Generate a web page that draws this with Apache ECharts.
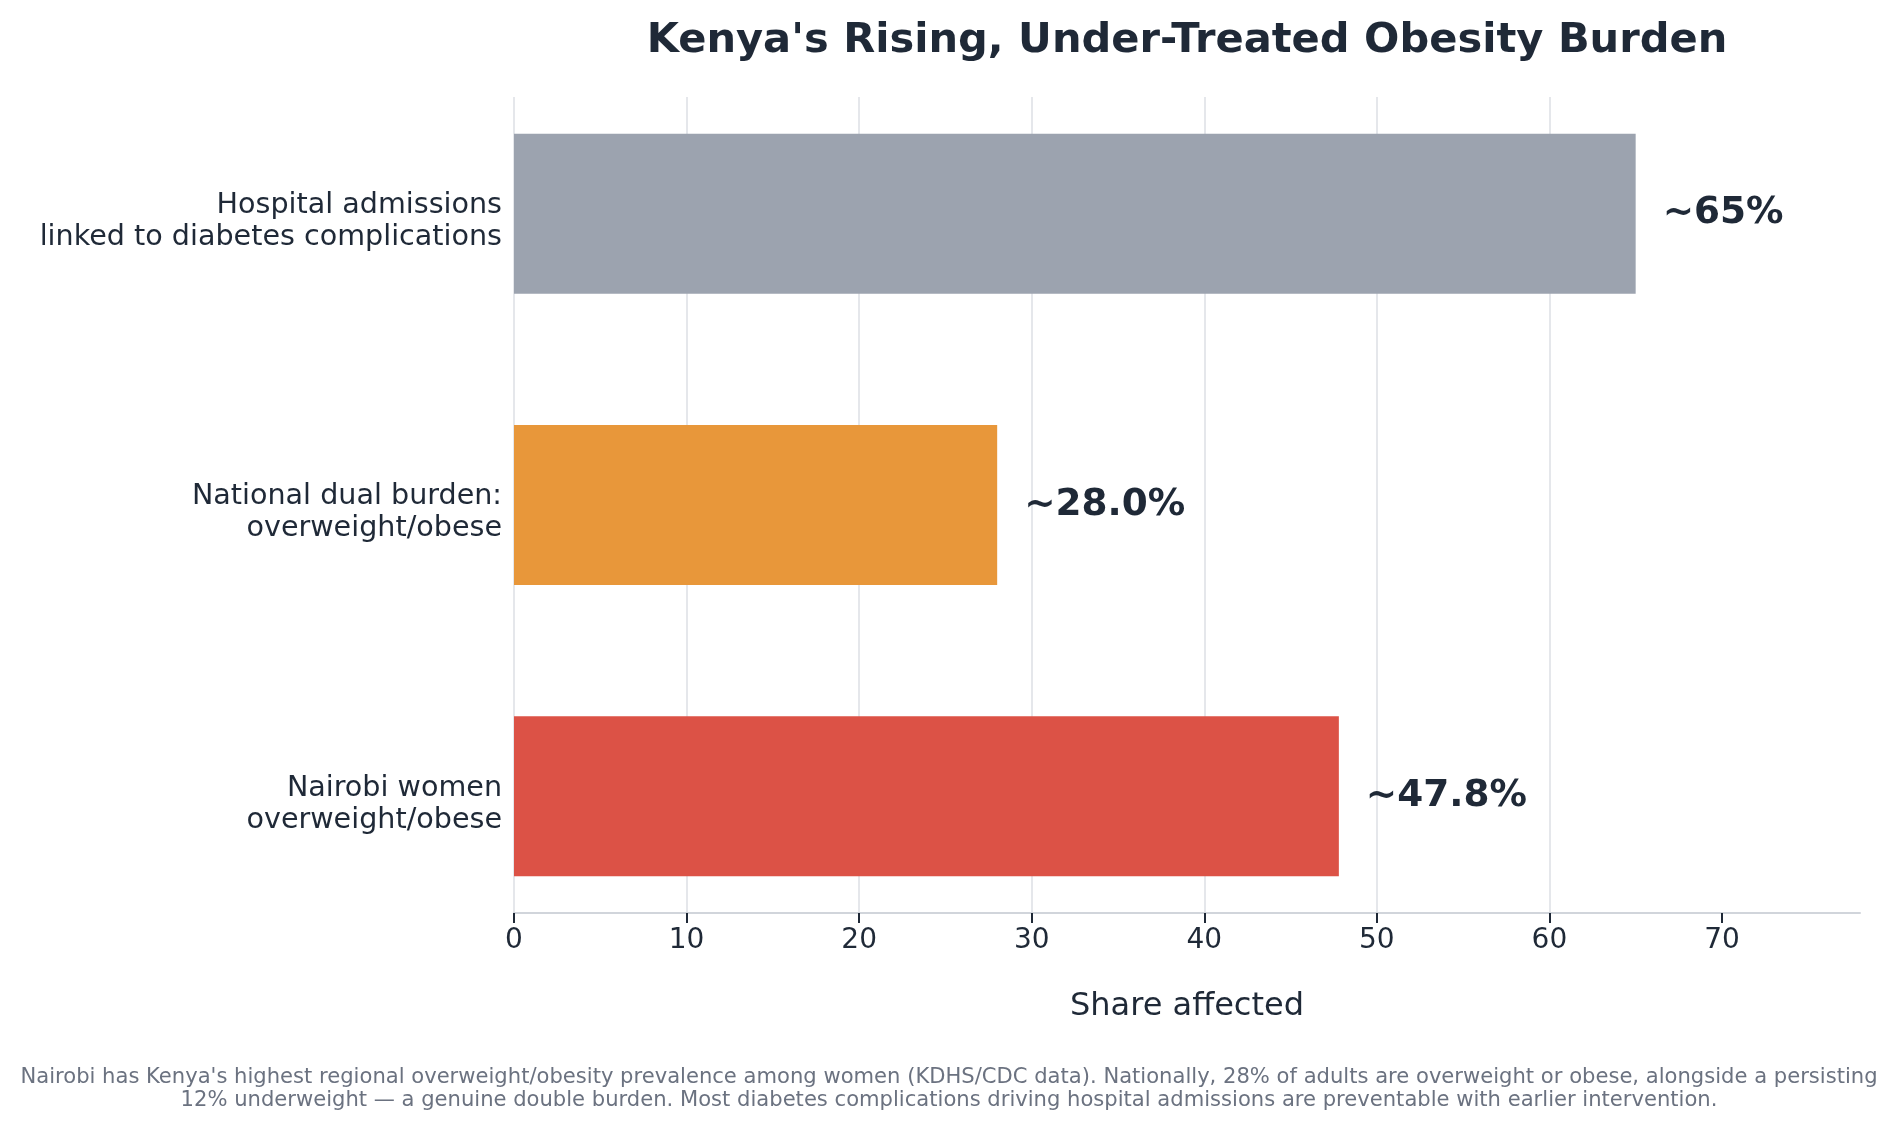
<!DOCTYPE html>
<html>
<head>
<meta charset="utf-8">
<title>Kenya's Rising, Under-Treated Obesity Burden</title>
<script src="https://cdn.jsdelivr.net/npm/echarts@6/dist/echarts.min.js"></script>
<style>
  html, body { margin: 0; padding: 0; background: #ffffff; }
  #main { width: 1898px; height: 1130px; }
</style>
</head>
<body>
<div id="main"></div>
<script>
// data, bottom to top (echarts puts the first category at the bottom)
var categories = [
  'Nairobi women\noverweight/obese',
  'National dual burden:\noverweight/obese',
  'Hospital admissions\nlinked to diabetes complications'
];
var shares = [47.8, 28.0, 65];
var valueLabels = ['~47.8%', '~28.0%', '~65%'];
var barColors = ['#dc5246', '#e8973a', '#9ca3af'];
var xTicks = [0, 10, 20, 30, 40, 50, 60, 70];
var xMax = 78;

var titleText = "Kenya's Rising, Under-Treated Obesity Burden";
var xName = 'Share affected';
var footnote = "Nairobi has Kenya's highest regional overweight/obesity prevalence among women (KDHS/CDC data). Nationally, 28% of adults are overweight or obese, alongside a persisting\n" +
  "12% underweight \u2014 a genuine double burden. Most diabetes complications driving hospital admissions are preventable with earlier intervention.";

var FONT = 'DejaVu Sans';
var INK = '#1f2937';

var myChart = echarts.init(document.getElementById('main'));

var option = {
  backgroundColor: '#ffffff',
  animation: false,
  textStyle: { fontFamily: FONT },
  graphic: [
    {
      type: 'text', x: 1187, y: 41.5,
      style: {
        text: titleText, fill: INK, font: 'bold 41.6px "DejaVu Sans"',
        align: 'center', verticalAlign: 'middle'
      }
    },
    {
      type: 'text', x: 949, y: 1089,
      style: {
        text: footnote, fill: '#6b7280', font: '21.1px "DejaVu Sans"',
        align: 'center', verticalAlign: 'middle', lineHeight: 23
      }
    }
  ],
  grid: [
    // visible axes (matplotlib-like y-range with margins)
    { left: 514, right: 38, top: 97, bottom: 217 },
    // category bands for the bars
    { left: 514, right: 38, top: 68, bottom: 188 },
    // same bands nudged down a little, only for the category labels
    { left: 514, right: 38, top: 76, bottom: 180 }
  ],
  xAxis: [
    {
      gridIndex: 0, type: 'value', min: 0, max: xMax, interval: 10,
      name: xName, nameLocation: 'middle', nameGap: 78,
      nameTextStyle: { fontSize: 32, color: INK, fontFamily: FONT },
      axisLine: { show: true, lineStyle: { color: '#d1d5db', width: 2 } },
      axisTick: { show: true, length: 10, customValues: xTicks, lineStyle: { color: INK, width: 2 } },
      axisLabel: { fontSize: 28, color: INK, margin: 14, customValues: xTicks, fontFamily: FONT },
      splitLine: { show: true, showMaxLine: false, lineStyle: { color: '#e5e7eb', width: 2 } }
    },
    { gridIndex: 1, type: 'value', min: 0, max: xMax, show: false },
    { gridIndex: 2, type: 'value', min: 0, max: xMax, show: false }
  ],
  yAxis: [
    { gridIndex: 0, type: 'value', min: 0, max: 1, show: false },
    {
      gridIndex: 1, type: 'category', data: categories,
      axisLine: { show: false }, axisTick: { show: false },
      splitLine: { show: false }, axisLabel: { show: false }
    },
    {
      gridIndex: 2, type: 'category', data: categories,
      axisLine: { show: false },
      axisTick: { show: false },
      splitLine: { show: false },
      axisLabel: {
        fontSize: 28.6, color: INK, margin: 12, lineHeight: 32,
        align: 'right', fontFamily: FONT
      }
    }
  ],
  series: [
    {
      type: 'bar',
      xAxisIndex: 1, yAxisIndex: 1,
      barWidth: 160,
      data: shares.map(function (v, i) {
        return { value: v, itemStyle: { color: barColors[i] } };
      }),
      label: {
        show: true, position: 'right', distance: 27,
        formatter: function (p) { return valueLabels[p.dataIndex]; },
        fontSize: 37.4, fontWeight: 'bold', color: INK, fontFamily: FONT
      }
    }
  ]
};

myChart.setOption(option);
</script>
</body>
</html>
